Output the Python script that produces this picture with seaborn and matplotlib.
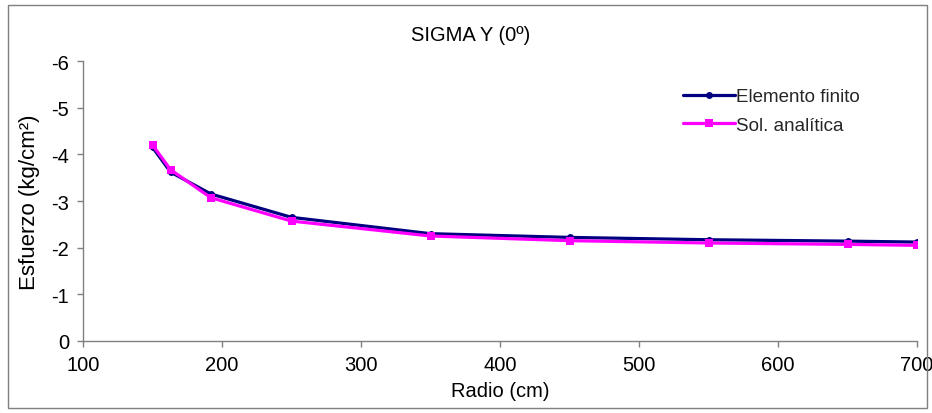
import matplotlib
matplotlib.use("Agg")
import matplotlib.pyplot as plt
import seaborn as sns
import pandas as pd
from matplotlib.patches import Rectangle

# Data
radio = [150, 163, 192, 250, 350, 450, 550, 650, 700]
elemento_finito = [-4.15, -3.62, -3.15, -2.65, -2.30, -2.22, -2.17, -2.14, -2.12]
sol_analitica = [-4.20, -3.67, -3.07, -2.57, -2.25, -2.15, -2.10, -2.07, -2.05]
x_ticks = [100, 200, 300, 400, 500, 600, 700]
y_ticks = [0, -1, -2, -3, -4, -5, -6]

sns.set_theme(style="white")
plt.rcParams['font.family'] = ['Liberation Sans', 'DejaVu Sans']

fig = plt.figure(figsize=(9.32, 4.14), dpi=100)
ax = fig.add_axes([83/932, 1-342/414, (917-83)/932, (342-62)/414])

df_fe = pd.DataFrame({"Radio": radio, "Esfuerzo": elemento_finito})
df_an = pd.DataFrame({"Radio": radio, "Esfuerzo": sol_analitica})

sns.lineplot(data=df_fe, x="Radio", y="Esfuerzo", ax=ax, color="#000080",
             marker="o", markersize=5, markeredgewidth=0, linewidth=2.3,
             label="Elemento finito")
sns.lineplot(data=df_an, x="Radio", y="Esfuerzo", ax=ax, color="#FF00FF",
             marker="s", markersize=6, markeredgewidth=0, linewidth=2.3,
             label="Sol. analítica")

ax.set_xlim(100, 700)
ax.set_ylim(0, -6)
ax.set_xticks(x_ticks)
ax.set_yticks(y_ticks)
ax.set_xticklabels([str(v) for v in x_ticks])
ax.set_yticklabels([str(v) for v in y_ticks])

for s in ["top", "right"]:
    ax.spines[s].set_visible(False)
for s in ["left", "bottom"]:
    ax.spines[s].set_color("#808080")
    ax.spines[s].set_linewidth(1.0)

ax.tick_params(axis="both", direction="out", length=4, width=1, color="#808080",
               labelsize=14.5, labelcolor="black", pad=6)
ax.tick_params(axis="x", bottom=True)
ax.tick_params(axis="y", left=True)

ax.set_xlabel("Radio (cm)", fontsize=14.5, color="black", labelpad=5)
ax.set_ylabel("Esfuerzo (kg/cm²)", fontsize=16, color="black", labelpad=8)

fig.text(471/932, 1-36/414, "SIGMA Y (0º)", ha="center", va="center", fontsize=14.5, color="black")

leg = ax.legend(loc="upper left", bbox_to_anchor=(683/932, 1-89/414),
                bbox_transform=fig.transFigure, frameon=False, fontsize=13.5,
                handlelength=2.75, handletextpad=0.1, borderpad=0, borderaxespad=0,
                labelspacing=0.62)

fig.patches.append(Rectangle((8/932, 1-409/414), (927-8)/932, (409-6)/414,
                             transform=fig.transFigure, fill=False,
                             edgecolor="#7f7f7f", linewidth=1.0))

fig.savefig("out.png", dpi=100)
